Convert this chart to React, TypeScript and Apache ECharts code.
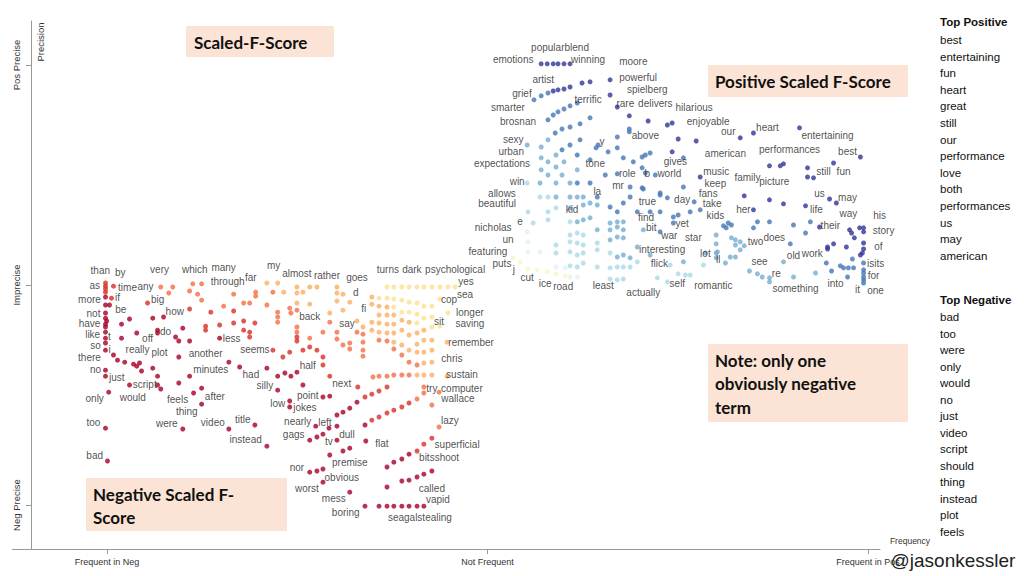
import React, { useEffect, useRef } from "react";
import * as echarts from "echarts";

const X_TICKS = [-95, 0, 95];
const X_TICK_LABELS = ["Frequent in Neg", "Not Frequent", "Frequent in Pos"];
const Y_TICKS = [-55, 0, 55];
const Y_TICK_LABELS = ["Neg Precise", "Imprecise", "Pos Precise"];

const NEG_COLORS = ["", "#a50026", "#d73027", "#f46d43", "#fdae61", "#fee090"];
const POS_COLORS = ["", "#313695", "#4575b4", "#74add1", "#abd9e9", "#e0f3f8", "#f4f7c9"];

// [frequency score, precision score, colour band]
const NEG_POINTS: number[][] = [
  [-95.4, 0.5, 2], [-95.4, -0.3, 2], [-95.4, -1, 2], [-95.4, -1.8, 2], [-93.4, -0.3, 2],
  [-95.4, -3, 1], [-93.9, -3.3, 2], [-95.4, -5, 1], [-94.4, -5, 1], [-95.4, -7, 1],
  [-95.4, -8.3, 1], [-95.1, -9, 1], [-95.4, -9.8, 1], [-95.4, -10.5, 1], [-95.4, -11.8, 1],
  [-95.4, -13.3, 1], [-95.4, -14.5, 1], [-95.4, -16.3, 1], [-95.4, -21.3, 1], [-95.4, -22.8, 1],
  [-94.6, -26.8, 1], [-95.4, -35.8, 1], [-94.9, -44, 1], [-91.4, -9.8, 1], [-91.4, -13.3, 1],
  [-89.4, -8.5, 1], [-87.6, -12, 1], [-93.4, -17.5, 1], [-92.4, -18.8, 1], [-90.6, -19.3, 1],
  [-88.4, -19.8, 1], [-87.6, -20.3, 1], [-86.9, -19.5, 1], [-86.4, -21.5, 1], [-83.6, -20.8, 1],
  [-82.4, -22.8, 1], [-82.4, -25, 1], [-81.6, -26, 1], [-89.4, -25, 1], [-84.9, -4.5, 2],
  [-83.6, -8.3, 1], [-80.9, -8, 1], [-82.4, -11.3, 1], [-82.4, -12, 1], [-81.6, -0.5, 3],
  [-79.6, -2, 3], [-78.6, -0.5, 3], [-77.9, -13, 1], [-77.1, -14, 1], [-76.1, -10.8, 1],
  [-74.4, -14, 1], [-74.4, -6, 2], [-77.1, -18, 1], [-74.4, -22.8, 1], [-77.1, -24.5, 1],
  [-73.4, -27, 1], [-71.4, -25.8, 1], [-71.4, -29.8, 1], [-76.1, -36, 1], [-74.4, -1.5, 3],
  [-73.6, 0.3, 3], [-71.4, 0.3, 3], [-72.4, -2.3, 3], [-71.4, -3.8, 3], [-69.1, -6.8, 2],
  [-70.4, -10.3, 2], [-70.4, -11.3, 2], [-66.9, -10, 2], [-66.9, -13.3, 1], [-65.9, -5.3, 3],
  [-63.4, -2.3, 3], [-63.4, -6.5, 2], [-63.4, -9.5, 2], [-64.6, -19.3, 1], [-61.9, -20.5, 1],
  [-64.6, -36, 1],
  [-55.1, 0.5, 4], [-52.4, 0.5, 4], [-57.9, -1.8, 3], [-57.9, -2.8, 3], [-53.6, -1.8, 3],
  [-50.9, -1.8, 4], [-47.6, -0.5, 4], [-47.6, -2, 4], [-46.1, -1.8, 4], [-44.4, -0.5, 4],
  [-42.6, -0.5, 4], [-37.6, -0.5, 4], [-37.6, -2, 4], [-36.1, -2.3, 4], [-37.6, -4, 4],
  [-34.4, -4.3, 4], [-36.1, -6.3, 4], [-60.9, -4.5, 3], [-59.4, -4.5, 3], [-55.1, -5, 3],
  [-52.4, -6.8, 3], [-52.4, -8, 3], [-52.4, -9.3, 3], [-49.4, -5.8, 3], [-49.1, -7, 3],
  [-47.6, -4.5, 4], [-47.6, -6.3, 3], [-44.4, -4.8, 4], [-39.4, -7, 4], [-39.4, -9.3, 3],
  [-60.9, -9, 2], [-58.1, -9.5, 2], [-60.9, -11.3, 2], [-59.4, -11.8, 2], [-59.4, -13, 2],
  [-47.6, -10.5, 3], [-47.6, -11.8, 3], [-47.6, -13, 2], [-47.6, -14, 2], [-44.4, -13.3, 3],
  [-41.1, -11.8, 3], [-37.6, -11.8, 3], [-37.6, -13.5, 3], [-32.6, -9, 4], [-32.6, -11.8, 3],
  [-36.1, -15, 3], [-34.4, -14.5, 3], [-34.4, -16, 3], [-31.1, -10.5, 4], [-31.1, -12.3, 3],
  [-31.1, -14.3, 3], [-31.1, -16.3, 3], [-31.1, -17.8, 3], [-28.9, -3, 4], [-28.9, -4.8, 4],
  [-28.9, -9.3, 4], [-28.9, -11.3, 4], [-27.1, -3.3, 5], [-27.1, -5.3, 4], [-27.1, -7.5, 4],
  [-27.1, -9.5, 4], [-27.1, -11.8, 4], [-27.1, -13.8, 3], [-25.1, -0.5, 5], [-25.1, -3.3, 5],
  [-25.1, -5.5, 4], [-25.1, -7.5, 4], [-25.1, -9.8, 4], [-25.1, -12, 4], [-25.1, -14, 3],
  [-23.4, -0.5, 5], [-23.4, -3.5, 5], [-23.4, -5.5, 5], [-23.4, -7.5, 4], [-23.4, -9.8, 4],
  [-23.4, -12, 4], [-23.4, -14.3, 4], [-23.4, -16, 3], [-21.4, -0.5, 5], [-21.4, -3.8, 5],
  [-21.4, -6.8, 5], [-21.4, -8.8, 4], [-21.4, -11.3, 4], [-21.4, -15, 4], [-21.4, -17.5, 3],
  [-19.6, -0.5, 5], [-19.6, -4.3, 5], [-19.6, -6.8, 5], [-19.6, -9.3, 4], [-19.6, -12.5, 4],
  [-19.6, -16.3, 4], [-19.6, -19.3, 3], [-17.6, -0.5, 5], [-17.6, -4.5, 5], [-17.6, -7.3, 5],
  [-17.6, -9.5, 5], [-17.6, -12, 4], [-17.6, -14.8, 4], [-17.6, -16.8, 4], [-17.6, -20, 3],
  [-15.9, -0.5, 5], [-15.9, -5.3, 5], [-15.9, -8.3, 5], [-15.9, -11.3, 4], [-15.9, -13.8, 4],
  [-15.9, -16.8, 4], [-15.9, -19.5, 4], [-13.9, -0.5, 5], [-13.9, -5.3, 5], [-13.9, -8, 5],
  [-13.9, -10.5, 5], [-13.9, -13.8, 4], [-13.9, -16.3, 4], [-13.9, -19.3, 4], [-11.9, -0.5, 5],
  [-11.9, -3.5, 5], [-11.9, -10.3, 5], [-9.9, -0.5, 5], [-9.9, -7, 5], [-8.1, -0.5, 5],
  [-10.1, -14.3, 4], [-10.1, -22.8, 4],
  [-28.6, -23, 3], [-27.1, -22.8, 3], [-25.1, -22.8, 3], [-23.4, -22.5, 3], [-21.4, -22.5, 3],
  [-19.6, -22.5, 3], [-17.6, -22.5, 4], [-15.9, -22.5, 4], [-13.9, -22.5, 4],
  [-53.6, -16.3, 2], [-51.1, -18, 2], [-49.4, -16.8, 2], [-46.1, -16.3, 2], [-44.4, -15.5, 2],
  [-42.6, -16.3, 2], [-41.1, -18, 2], [-41.1, -20, 2], [-55.1, -20.8, 1], [-52.4, -22.8, 1],
  [-50.6, -22, 1], [-49.1, -22.8, 1], [-47.6, -21.8, 1], [-52.4, -26.3, 1], [-46.1, -25, 1],
  [-39.4, -22.8, 2], [-32.4, -25.5, 2], [-49.4, -29, 1], [-49.4, -30.5, 1], [-41.1, -28, 1],
  [-39.4, -27.8, 1], [-58.1, -35, 1], [-55.1, -40.3, 1], [-42.9, -35.3, 1], [-39.6, -35.8, 1],
  [-37.6, -35.3, 1], [-37.6, -32.5, 1], [-36.1, -31.8, 1], [-34.4, -30.8, 1], [-32.6, -29.3, 1],
  [-30.6, -28, 2], [-28.9, -27.3, 2], [-27.1, -26.5, 2], [-25.1, -25.5, 2], [-44.4, -38.8, 1],
  [-42.6, -38, 1], [-41.1, -37.3, 1], [-37.6, -38.8, 1], [-36.1, -41.5, 1], [-34.4, -40.8, 1],
  [-39.4, -42.5, 1], [-44.4, -46.8, 1], [-42.6, -46.5, 1], [-41.1, -46, 1], [-41.1, -49.3, 1],
  [-34.4, -51.8, 1], [-30.6, -55.3, 1], [-27.1, -55.3, 1], [-25.1, -55.3, 1], [-23.4, -55.3, 1],
  [-21.4, -55.3, 1], [-19.6, -55.3, 1], [-17.6, -55.3, 1], [-15.9, -55.3, 1], [-25.1, -50.5, 1],
  [-21.4, -49, 1], [-19.6, -48.8, 1], [-17.6, -48, 1], [-15.9, -47.3, 1], [-13.9, -46.5, 1],
  [-25.1, -45.5, 1], [-23.4, -44.3, 1], [-21.4, -43.5, 1], [-19.6, -42.3, 1], [-17.6, -41.5, 2],
  [-15.9, -39.8, 2], [-13.9, -38.3, 2], [-30.4, -39, 1], [-30.6, -35, 1], [-28.9, -33.8, 2],
  [-27.1, -33, 2], [-25.1, -32, 2], [-23.4, -31.3, 2], [-21.4, -30.5, 2], [-19.6, -29.5, 2],
  [-17.6, -28.5, 3], [-15.9, -27, 3], [-13.9, -30, 3], [-15.9, -25.5, 3], [-12.1, -26.8, 3],
  [-12.1, -35.5, 3],
];

const POS_POINTS: number[][] = [
  [13.4, 55.3, 1], [14.9, 55.3, 1], [16.4, 55.3, 1], [17.6, 55.3, 1], [19.1, 55.3, 1], [20.6, 55.3, 1],
  [23.6, 50.5, 1], [25.6, 50.8, 1], [30.6, 51.3, 1], [30.6, 47.5, 1], [32.4, 44.5, 1], [35.4, 42.3, 1],
  [40.1, 41, 1], [44.9, 40, 1], [46.1, 40.5, 1], [47.6, 36.5, 1], [52.1, 36, 1], [63.1, 36.8, 1],
  [66.4, 38, 1], [77.9, 39.3, 1], [93.1, 32, 1], [70.4, 29.8, 1], [73.1, 29.8, 1], [73.9, 30.3, 1],
  [79.9, 29.3, 1], [79.9, 27, 1], [81.4, 26.8, 1], [86.4, 30.5, 1], [64.1, 22.3, 1], [70.4, 21.3, 1],
  [73.9, 20.3, 1], [79.4, 19.8, 1], [85.4, 21.5, 1], [87.1, 20.5, 1], [66.4, 18.8, 1], [82.9, 14.5, 1],
  [90.4, 13.8, 1], [90.9, 13, 1], [91.6, 11.8, 1], [92.9, 14.3, 1], [93.9, 14.3, 1], [93.9, 13.3, 1],
  [93.9, 10.5, 1], [93.9, 9, 1], [93.6, 8, 1], [93.1, 7.5, 1], [89.6, 9.5, 1], [86.4, 10.3, 1],
  [84.9, 9.5, 1], [84.9, 9, 1], [46.1, 33.3, 1], [53.1, 27, 1], [19.1, 49, 1], [17.6, 48.8, 1],
  [16.4, 48.5, 1], [20.6, 49.5, 1],
  [15.1, 48, 2], [13.4, 47.3, 2], [11.6, 46.3, 2], [22.4, 45.5, 2], [20.6, 44.8, 2], [19.1, 44, 2],
  [17.6, 43.3, 2], [16.4, 42.5, 2], [15.1, 41.3, 2], [25.6, 41.8, 2], [23.1, 40.3, 2], [20.6, 39.5, 2],
  [18.6, 39, 2], [16.9, 38, 2], [35.4, 39, 2], [35.4, 38.3, 2], [32.4, 37, 2], [32.4, 34.3, 2],
  [27.6, 35, 2], [27.1, 34.3, 2], [30.1, 33.3, 2], [33.9, 31.8, 2], [36.4, 30.8, 2], [38.6, 32, 2],
  [39.4, 32.5, 2], [40.6, 33, 2], [48.9, 31.8, 2], [32.4, 27.8, 2], [38.6, 29.3, 2], [39.4, 28, 2],
  [41.9, 27.5, 2], [48.9, 24.5, 2], [43.1, 23, 2], [44.9, 21.8, 2], [51.6, 20.8, 2], [46.4, 17, 2],
  [47.6, 17.5, 2], [50.6, 18.3, 2], [53.1, 18.8, 2], [58.9, 14.8, 2], [60.1, 15.5, 2], [59.6, 14.3, 2],
  [60.9, 15, 2], [66.4, 14.3, 2], [67.4, 15.8, 2], [70.4, 15.8, 2], [76.4, 15, 2], [79.4, 13, 2],
  [80.6, 15.8, 2], [75.6, 10.3, 2], [84.6, 5.5, 2], [85.9, 3.5, 2], [88.1, 4.8, 2], [88.9, 4.3, 2],
  [90.1, 4.3, 2], [91.4, 4.3, 2], [91.1, 6.5, 2], [89.9, 2, 2], [93.9, 5.5, 2], [93.9, 3.8, 2],
  [93.9, 3, 2], [93.9, 2, 2], [93.9, 1.3, 2], [93.9, 0.5, 2], [35.6, 24.5, 2], [38.6, 24.3, 2],
  [37.4, 18.3, 2], [40.6, 18.3, 2], [46.4, 15.5, 2], [22.4, 25.5, 2], [25.6, 25.5, 2], [27.4, 22, 2],
  [35.6, 22, 2], [38.9, 24, 2], [43.1, 22.5, 2], [30.6, 19.5, 2], [32.4, 18.3, 2], [33.9, 20.5, 2],
  [43.1, 18.3, 2], [43.1, 13.3, 2], [18.6, 33.8, 2], [20.6, 35, 2], [23.1, 36.3, 2], [22.4, 32.5, 2],
  [25.6, 31.3, 2], [29.4, 27.5, 2],
  [15.1, 36.3, 3], [13.4, 34.5, 3], [9.9, 35, 3], [13.4, 31.8, 3], [15.1, 30.8, 3], [17.1, 32.5, 3],
  [13.4, 28.8, 3], [17.1, 29.5, 3], [19.1, 30.8, 3], [15.1, 27.5, 3], [18.6, 27.5, 3], [22.4, 28.8, 3],
  [13.1, 25.5, 3], [17.1, 25.5, 3], [20.6, 25.5, 3], [17.1, 22, 3], [20.6, 22, 3], [22.4, 22, 3],
  [23.9, 22, 3], [20.6, 19.3, 3], [23.9, 20, 3], [25.6, 20.5, 3], [27.4, 20, 3], [22.4, 15.8, 3],
  [23.9, 16.3, 3], [25.6, 16.8, 3], [30.6, 15.5, 3], [32.4, 15.8, 3], [33.9, 15.8, 3], [27.4, 13.8, 3],
  [30.6, 13.8, 3], [32.4, 14.5, 3], [33.9, 13.8, 3], [38.9, 13.8, 3], [30.6, 11.3, 3], [32.4, 12, 3],
  [33.9, 11.8, 3], [37.4, 9.5, 3], [32.4, 7, 3], [33.9, 7.5, 3], [35.6, 6.8, 3], [40.6, 7.5, 3],
  [48.9, 5.8, 3], [54.4, 8, 3], [57.4, 8.3, 3], [60.6, 7, 3], [57.1, 12.5, 3], [57.1, 10.3, 3],
  [60.9, 11.8, 3], [61.9, 11.3, 3], [61.9, 10, 3], [63.1, 10.8, 3], [64.1, 9.8, 3], [63.1, 8.8, 3],
  [57.1, 8, 3], [57.1, 6.8, 3], [59.4, 5.5, 3], [61.9, 7, 3], [65.4, 3.5, 3], [67.4, 2.8, 3],
  [68.6, 2, 3], [70.4, 1.8, 3], [70.4, 0.8, 3], [73.9, 5.8, 3], [76.4, 2, 3], [81.9, 3, 3],
  [9.9, 25.5, 4], [13.1, 22, 4], [15.1, 22, 4], [10.1, 18.3, 4], [15.1, 18.3, 4], [17.1, 19.3, 4],
  [11.4, 15.5, 4], [15.1, 16.3, 4], [20.6, 15.8, 4], [20.6, 12.5, 4], [22.4, 13, 4], [23.9, 12.5, 4],
  [17.1, 10, 4], [20.6, 10.8, 4], [22.4, 10.5, 4], [23.9, 10, 4], [27.4, 10.5, 4], [17.1, 8, 4],
  [20.6, 8.3, 4], [22.4, 7.5, 4], [23.9, 8, 4], [27.4, 8.8, 4], [30.6, 8, 4], [20.6, 4.8, 4],
  [22.4, 4.5, 4], [23.9, 5.5, 4], [27.4, 4.5, 4], [30.6, 4.3, 4], [32.4, 4.5, 4], [33.9, 4.5, 4],
  [35.6, 4.5, 4], [37.4, 5.8, 4], [45.6, 5, 4], [53.9, 5, 4], [30.6, 1.5, 4], [32.4, 1.3, 4],
  [33.9, 1.5, 4], [42.4, 1.8, 4], [44.9, 0.8, 4], [47.6, 2.8, 4], [49.4, 2.5, 4], [50.6, 2.5, 4],
  [9.9, 13.3, 5], [10.1, 10.8, 5], [10.1, 8.3, 5], [13.1, 8.3, 5], [17.1, 4.5, 5], [19.4, 4.3, 5],
  [20.6, 2, 5], [22.4, 2, 5],
  [6.4, 6.8, 6], [8.1, 5.8, 6], [10.1, 4, 6], [12.4, 3.8, 6], [14.9, 3.3, 6], [17.1, 2.8, 6],
  [19.4, 2.3, 6],
];

// [term, frequency score, precision score]
const NEG_LABELS: [string, number, number][] = [
  ["than", -96.7, 3.6], ["by", -91.7, 3.1], ["very", -81.9, 3.8], ["which", -73.1, 4], ["many", -65.9, 4.5],
  ["my", -53.4, 5], ["almost", -47.6, 2.8], ["rather", -40.1, 2.5], ["goes", -32.6, 2], ["turns", -24.9, 4],
  ["dark", -18.9, 4], ["psychological", -8.1, 4], ["yes", -5.4, 0.8], ["sea", -5.6, -2.3], ["cop", -9.6, -3.5],
  ["longer", -4.4, -6.8], ["sit", -12.1, -9], ["saving", -4.4, -9.5], ["remember", -4.1, -14.3], ["chris", -8.9, -18.3],
  ["sustain", -6.4, -22.3], ["try", -13.9, -25.8], ["computer", -6.4, -25.8], ["wallace", -7.4, -28.3], ["lazy", -9.4, -33.8],
  ["superficial", -7.6, -39.8], ["bitsshoot", -12.1, -43], ["called", -13.9, -50.8], ["vapid", -12.4, -53.5], ["seagalstealing", -16.9, -58],
  ["boring", -35.4, -56.8], ["mess", -38.4, -53.3], ["worst", -45.1, -50.8], ["obvious", -36.4, -48], ["nor", -47.6, -45.5],
  ["premise", -34.4, -44.3], ["flat", -26.4, -39.5], ["dull", -35.1, -37.3], ["tv", -39.6, -39], ["gags", -48.4, -37.3],
  ["left", -40.6, -34.3], ["nearly", -47.4, -34], ["jokes", -45.6, -30.5], ["point", -44.9, -27.5], ["low", -52.4, -29.5],
  ["next", -36.4, -24.5], ["silly", -55.6, -25], ["half", -44.9, -20], ["had", -59.1, -22.3], ["seems", -58.1, -16],
  ["say", -35.1, -9.5], ["back", -44.4, -7.8], ["fi", -30.9, -5.8], ["d", -32.9, -1.8], ["far", -59.1, 1.8],
  ["through", -64.9, 0.8], ["time", -89.9, -0.5], ["any", -85.4, -0.3], ["as", -98.1, 0], ["more", -99.4, -3.5],
  ["if", -92.4, -3], ["big", -82.4, -3.5], ["be", -91.6, -6], ["not", -98.4, -7], ["how", -78.1, -6.5],
  ["have", -99.4, -9.5], ["like", -98.6, -12.3], ["t", -94.4, -12.8], ["do", -80.4, -11.5], ["off", -84.9, -13.3],
  ["less", -63.9, -13.3], ["so", -97.9, -15], ["i", -94.4, -16], ["really", -87.4, -16], ["plot", -81.9, -16.8],
  ["another", -70.4, -17], ["there", -99.4, -18], ["no", -97.9, -21], ["just", -92.6, -23], ["minutes", -69.1, -21],
  ["script", -85.6, -24.8], ["would", -88.6, -28], ["only", -98.1, -28.3], ["feels", -77.4, -28.5], ["after", -68.1, -27.8],
  ["thing", -75.1, -31.5], ["too", -98.4, -34.3], ["were", -80.1, -34.5], ["video", -68.6, -34.3], ["title", -61.1, -33.5],
  ["instead", -60.4, -38.5], ["bad", -98.1, -42.5],
];

const POS_LABELS: [string, number, number][] = [
  ["popularblend", 18.1, 59.5], ["emotions", 6.4, 56.5], ["winning", 25.1, 56.5], ["moore", 36.4, 55.8], ["artist", 13.9, 51.5],
  ["powerful", 37.6, 52], ["spielberg", 39.9, 48.8], ["grief", 8.6, 47.8], ["terrific", 25.1, 46.3], ["rare", 34.4, 45.5],
  ["delivers", 41.9, 45.5], ["hilarious", 51.6, 44.3], ["smarter", 5.1, 44.5], ["brosnan", 7.6, 40.8], ["enjoyable", 55.1, 40.8],
  ["our", 60.1, 38.3], ["heart", 69.9, 39.5], ["entertaining", 84.9, 37.5], ["above", 39.4, 37.3], ["sexy", 6.4, 36.5],
  ["y", 28.6, 35.8], ["urban", 5.9, 33.3], ["american", 59.4, 33], ["performances", 75.4, 34], ["best", 89.9, 33.3],
  ["expectations", 3.6, 30.5], ["tone", 26.9, 30.3], ["gives", 46.9, 30.8], ["role", 34.9, 27.8], ["b", 39.9, 27.8],
  ["world", 45.4, 27.8], ["music", 57.1, 28.5], ["still", 83.9, 28.3], ["fun", 88.9, 28.5], ["win", 7.4, 26],
  ["keep", 56.9, 25.3], ["family", 64.9, 26.8], ["picture", 71.6, 25.8], ["mr", 32.6, 24.8], ["allows", 3.6, 23],
  ["la", 27.4, 23.3], ["true", 39.9, 21], ["day", 48.6, 21.5], ["fans", 55.1, 22.8], ["take", 56.1, 20.3],
  ["us", 82.9, 22.8], ["may", 89.9, 22], ["beautiful", 2.4, 20.3], ["kid", 21.1, 18.8], ["her", 63.9, 18.8],
  ["life", 82.1, 19], ["way", 90.1, 18], ["find", 39.6, 17], ["kids", 56.9, 17.3], ["yet", 48.6, 15.5],
  ["his", 97.9, 17.5], ["e", 8.1, 16], ["bit", 40.9, 14.3], ["nicholas", 1.4, 14.3], ["war", 45.4, 12.5],
  ["star", 51.4, 12], ["their", 85.6, 14.8], ["two", 66.9, 11], ["does", 71.6, 11.8], ["story", 98.9, 13.6],
  ["un", 5.1, 11.3], ["interesting", 43.6, 8.8], ["lot", 54.4, 8], ["of", 97.6, 9.6], ["featuring", 0.1, 8.5],
  ["ll", 57.6, 6.3], ["see", 67.9, 6], ["old", 76.4, 7.3], ["work", 81.1, 8], ["puts", 3.6, 5.5],
  ["flick", 42.9, 5.5], ["j", 6.6, 4], ["isits", 96.9, 5.5], ["re", 72.1, 3], ["for", 96.4, 2.3],
  ["cut", 9.9, 2], ["ice", 14.4, 0.3], ["road", 18.9, -0.3], ["least", 28.9, 0], ["self", 47.4, 0.5],
  ["romantic", 56.4, 0], ["something", 76.9, -0.8], ["into", 86.9, 0.5], ["it", 92.4, -1], ["one", 96.9, -1.3],
  ["actually", 38.9, -1.8],
];

const TOP_POSITIVE = ["best", "entertaining", "fun", "heart", "great", "still", "our", "performance", "love", "both", "performances", "us", "may", "american"];
const TOP_NEGATIVE = ["bad", "too", "were", "only", "would", "no", "just", "video", "script", "should", "thing", "instead", "plot", "feels"];

const BOX_FILL = "#fbe4d5";
const BOX_FONT = "bold 17px Lato, 'Open Sans', sans-serif";
const SANS = "'Liberation Sans', Arial, Helvetica, sans-serif";

function box(x: number, y: number, w: number, h: number, lines: string[], tx: number, ty: number, lh: number) {
  const children: any[] = [
    { type: "rect", shape: { x, y, width: w, height: h }, style: { fill: BOX_FILL } },
  ];
  lines.forEach((t, i) => {
    children.push({
      type: "text",
      x: tx,
      y: ty + i * lh,
      style: { text: t, font: BOX_FONT, fill: "#111", textAlign: "left", textVerticalAlign: "middle" },
    });
  });
  return { type: "group", children };
}

export default function App() {
  const ref = useRef<HTMLDivElement>(null);
  useEffect(() => {
    if (!ref.current) return;
    const chart = echarts.init(ref.current, undefined, { renderer: "svg" });

    const legend: any[] = [];
    legend.push({ type: "text", x: 940, y: 22, style: { text: "Top Positive", font: `bold 11.5px ${SANS}`, fill: "#111", textVerticalAlign: "middle" } });
    TOP_POSITIVE.forEach((t, i) =>
      legend.push({ type: "text", x: 940, y: 40 + i * 16.6, style: { text: t, font: `11.5px ${SANS}`, fill: "#111", textVerticalAlign: "middle" } })
    );
    legend.push({ type: "text", x: 940, y: 300, style: { text: "Top Negative", font: `bold 11.5px ${SANS}`, fill: "#111", textVerticalAlign: "middle" } });
    TOP_NEGATIVE.forEach((t, i) =>
      legend.push({ type: "text", x: 940, y: 317 + i * 16.5, style: { text: t, font: `11.5px ${SANS}`, fill: "#111", textVerticalAlign: "middle" } })
    );

    const labelSeries = (name: string, rows: [string, number, number][]) => ({
      name,
      type: "scatter",
      symbol: "circle",
      symbolSize: 1,
      clip: false,
      silent: true,
      z: 5,
      itemStyle: { color: "rgba(0,0,0,0)" },
      label: {
        show: true,
        position: "inside",
        formatter: "{b}",
        fontFamily: SANS,
        fontSize: 10,
        color: "#222",
      },
      data: rows.map(([t, x, y]) => ({ name: t, value: [x, y] })),
    });

    chart.setOption({
      animation: false,
      grid: { left: 31, top: 21, right: 144, bottom: 27, containLabel: false },
      xAxis: {
        type: "value",
        min: -114,
        max: 98,
        splitLine: { show: false },
        axisLine: { show: true, onZero: false, lineStyle: { color: "#999" } },
        axisTick: { show: true, length: 5, customValues: X_TICKS, lineStyle: { color: "#999" } },
        axisLabel: {
          customValues: X_TICKS,
          formatter: (v: number) => X_TICK_LABELS[X_TICKS.indexOf(v)] ?? "",
          fontFamily: SANS,
          fontSize: 9,
          color: "#333",
          margin: 8,
        },
      },
      yAxis: {
        type: "value",
        min: -66,
        max: 66,
        splitLine: { show: false },
        axisLine: { show: true, onZero: false, lineStyle: { color: "#999" } },
        axisTick: { show: true, length: 5, customValues: Y_TICKS, lineStyle: { color: "#999" } },
        axisLabel: {
          customValues: Y_TICKS,
          rotate: 90,
          formatter: (v: number) => Y_TICK_LABELS[Y_TICKS.indexOf(v)] ?? "",
          fontFamily: SANS,
          fontSize: 9.5,
          color: "#333",
          margin: 10,
        },
      },
      series: [
        {
          name: "negative",
          type: "scatter",
          symbolSize: 5,
          silent: true,
          itemStyle: { color: (p: any) => NEG_COLORS[p.value[2]] },
          data: NEG_POINTS,
        },
        {
          name: "positive",
          type: "scatter",
          symbolSize: 5,
          silent: true,
          itemStyle: { color: (p: any) => POS_COLORS[p.value[2]] },
          data: POS_POINTS,
        },
        labelSeries("negLabels", NEG_LABELS),
        labelSeries("posLabels", POS_LABELS),
      ],
      graphic: [
        { type: "line", shape: { x1: 12, y1: 549.5, x2: 31, y2: 549.5 }, style: { stroke: "#999", lineWidth: 1 } },
        { type: "text", x: 40, y: 42, rotation: Math.PI / 2, style: { text: "Precision", font: `9.5px ${SANS}`, fill: "#333", textAlign: "center", textVerticalAlign: "middle" } },
        { type: "text", x: 910, y: 541, style: { text: "Frequency", font: `8.5px ${SANS}`, fill: "#333", textAlign: "center", textVerticalAlign: "middle" } },
        box(186, 26, 148, 31, ["Scaled-F-Score"], 194, 42, 0),
        box(708, 65, 200, 32, ["Positive Scaled F-Score"], 715, 81, 0),
        box(708, 344, 200, 78, ["Note: only one", "obviously negative", "term"], 715, 360, 23.5),
        box(86, 478, 201, 53, ["Negative Scaled F-", "Score"], 93, 494, 23),
        ...legend,
        { type: "text", x: 953, y: 560, style: { text: "@jasonkessler", font: `19px ${SANS}`, fill: "#222", textAlign: "center", textVerticalAlign: "middle" } },
      ],
    });
    return () => chart.dispose();
  }, []);
  return <div ref={ref} style={{ position: "absolute", left: 0, top: 0, width: 1024, height: 576, background: "#fff" }} />;
}
